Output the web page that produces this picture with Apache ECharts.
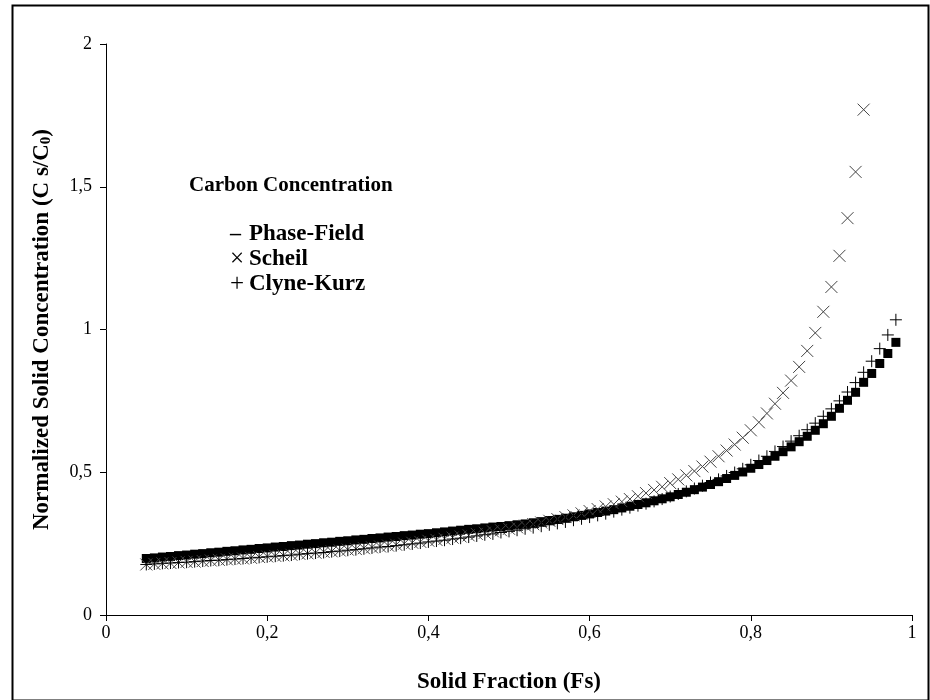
<!DOCTYPE html>
<html>
<head>
<meta charset="utf-8">
<script src="https://cdn.jsdelivr.net/npm/echarts@6/dist/echarts.min.js"></script>
<style>
  html, body { margin: 0; padding: 0; background: #fff; }
  #chart { width: 930px; height: 700px; }
</style>
</head>
<body>
<div id="chart"></div>
<script>
// solid fraction steps (0.05 .. 0.98)
var solidFraction = [
  0.05,0.06,0.07,0.08,0.09,0.10,0.11,0.12,0.13,0.14,
  0.15,0.16,0.17,0.18,0.19,0.20,0.21,0.22,0.23,0.24,
  0.25,0.26,0.27,0.28,0.29,0.30,0.31,0.32,0.33,0.34,
  0.35,0.36,0.37,0.38,0.39,0.40,0.41,0.42,0.43,0.44,
  0.45,0.46,0.47,0.48,0.49,0.50,0.51,0.52,0.53,0.54,
  0.55,0.56,0.57,0.58,0.59,0.60,0.61,0.62,0.63,0.64,
  0.65,0.66,0.67,0.68,0.69,0.70,0.71,0.72,0.73,0.74,
  0.75,0.76,0.77,0.78,0.79,0.80,0.81,0.82,0.83,0.84,
  0.85,0.86,0.87,0.88,0.89,0.90,0.91,0.92,0.93,0.94,
  0.95,0.96,0.97,0.98
];

var phaseField = [
  0.198,0.200,0.203,0.205,0.208,0.210,0.213,0.215,0.218,0.220,
  0.223,0.225,0.228,0.230,0.233,0.235,0.238,0.240,0.243,0.245,
  0.248,0.250,0.253,0.255,0.258,0.260,0.263,0.265,0.268,0.270,
  0.273,0.275,0.278,0.280,0.283,0.285,0.288,0.291,0.294,0.297,
  0.300,0.302,0.305,0.308,0.310,0.313,0.316,0.319,0.323,0.327,
  0.331,0.335,0.339,0.344,0.349,0.354,0.359,0.364,0.369,0.375,
  0.381,0.387,0.393,0.400,0.407,0.414,0.422,0.430,0.439,0.448,
  0.457,0.467,0.478,0.489,0.501,0.514,0.527,0.541,0.556,0.572,
  0.589,0.607,0.626,0.647,0.670,0.696,0.724,0.752,0.780,0.815,
  0.846,0.881,0.916,0.955
];

// Scheil points stop at 0.94 (the rest is above the axis max)
var scheil = [
  0.177,0.179,0.181,0.182,0.184,0.186,0.187,0.189,0.191,0.193,
  0.195,0.197,0.198,0.200,0.203,0.205,0.207,0.209,0.211,0.214,
  0.216,0.218,0.221,0.223,0.226,0.229,0.231,0.234,0.237,0.240,
  0.243,0.246,0.250,0.253,0.256,0.260,0.263,0.267,0.271,0.275,
  0.279,0.284,0.288,0.293,0.297,0.302,0.307,0.313,0.318,0.324,
  0.330,0.336,0.343,0.349,0.356,0.364,0.371,0.380,0.388,0.397,
  0.406,0.416,0.427,0.438,0.449,0.462,0.475,0.489,0.504,0.520,
  0.537,0.556,0.576,0.597,0.621,0.647,0.675,0.706,0.740,0.778,
  0.821,0.869,0.925,0.988,1.062,1.149,1.258,1.390,1.552,1.770
];

var clyneKurz = [
  0.177,0.179,0.181,0.182,0.184,0.185,0.187,0.189,0.191,0.192,
  0.194,0.196,0.198,0.200,0.202,0.204,0.206,0.208,0.210,0.213,
  0.215,0.217,0.219,0.222,0.224,0.227,0.229,0.232,0.235,0.238,
  0.240,0.243,0.246,0.249,0.252,0.256,0.259,0.262,0.266,0.269,
  0.273,0.277,0.281,0.284,0.289,0.293,0.297,0.302,0.306,0.311,
  0.316,0.321,0.326,0.332,0.337,0.343,0.349,0.355,0.362,0.369,
  0.376,0.383,0.390,0.398,0.406,0.415,0.424,0.433,0.443,0.453,
  0.464,0.475,0.487,0.499,0.512,0.526,0.541,0.556,0.573,0.590,
  0.609,0.628,0.649,0.672,0.696,0.722,0.750,0.781,0.814,0.850,
  0.889,0.933,0.981,1.034
];

var seriesNames = ['Phase-Field', 'Scheil', 'Clyne-Kurz'];
var legendMarks = ['\u2013', '\u00d7', '+'];
var legendTitle = 'Carbon Concentration';

function pairs(ys) {
  return ys.map(function (y, i) { return [solidFraction[i], y]; });
}
function comma(v) {
  return String(v).replace('.', ',');
}

var serif = '"Liberation Serif", "Times New Roman", serif';

// legend is drawn by hand: a mark and a label on each row
var legendRows = [];
seriesNames.forEach(function (name, i) {
  var cy = 234 + i * 25;
  legendRows.push({
    type: 'text',
    style: {
      x: 230, y: cy, text: legendMarks[i], verticalAlign: 'middle',
      font: (i === 0 ? 'bold 22px ' : '25px ') + serif, fill: '#000'
    }
  });
  legendRows.push({
    type: 'text',
    style: { x: 249, y: cy, text: name, verticalAlign: 'middle', font: 'bold 23px ' + serif, fill: '#000' }
  });
});

var chart = echarts.init(document.getElementById('chart'));
chart.setOption({
  animation: false,
  backgroundColor: '#fff',
  grid: { left: 106, right: 18, top: 44, bottom: 85, containLabel: false },
  xAxis: {
    type: 'value', min: 0, max: 1, interval: 0.2,
    name: 'Solid Fraction (Fs)', nameLocation: 'middle', nameGap: 56,
    nameTextStyle: { fontFamily: serif, fontWeight: 'bold', fontSize: 23, color: '#000' },
    axisLine: { lineStyle: { color: '#000', width: 1 } },
    axisTick: { show: true, length: 6, lineStyle: { color: '#000' } },
    axisLabel: { margin: 9, fontFamily: serif, fontSize: 18, color: '#000', formatter: comma },
    splitLine: { show: false }
  },
  yAxis: {
    type: 'value', min: 0, max: 2, interval: 0.5,
    name: 'Normalized Solid Concentration (C s/C{sub|0})',
    nameLocation: 'middle', nameGap: 52, nameRotate: 90,
    nameTextStyle: {
      fontFamily: serif, fontWeight: 'bold', fontSize: 23, color: '#000',
      rich: { sub: { fontFamily: serif, fontWeight: 'bold', fontSize: 15, color: '#000', padding: [9, 0, 0, 0] } }
    },
    axisLine: { show: true, lineStyle: { color: '#000', width: 1 } },
    axisTick: { show: true, length: 6, lineStyle: { color: '#000' } },
    axisLabel: { margin: 14, fontFamily: serif, fontSize: 18, color: '#000', formatter: comma },
    splitLine: { show: false }
  },
  graphic: [
    {
      type: 'rect', left: 10, top: 3, silent: true,
      shape: { width: 916, height: 695 },
      style: { fill: 'none', stroke: '#000', lineWidth: 2 }
    },
    {
      type: 'text', left: 189, top: 175,
      style: { text: legendTitle, font: 'bold 21px ' + serif, fill: '#000' }
    }
  ].concat(legendRows),
  series: [
    {
      name: seriesNames[0], type: 'scatter', symbol: 'rect', symbolSize: 9,
      itemStyle: { color: '#000', opacity: 1 },
      data: pairs(phaseField), z: 2
    },
    {
      name: seriesNames[1], type: 'scatter', symbol: 'path://M0,0L10,10M10,0L0,10', symbolSize: 12,
      itemStyle: { color: 'none', borderColor: '#444', borderWidth: 1, opacity: 1 },
      data: pairs(scheil), z: 3
    },
    {
      name: seriesNames[2], type: 'scatter', symbol: 'path://M5,0L5,10M0,5L10,5', symbolSize: 12,
      itemStyle: { color: 'none', borderColor: '#000', borderWidth: 1, opacity: 1 },
      data: pairs(clyneKurz), z: 4
    }
  ]
});
</script>
</body>
</html>
